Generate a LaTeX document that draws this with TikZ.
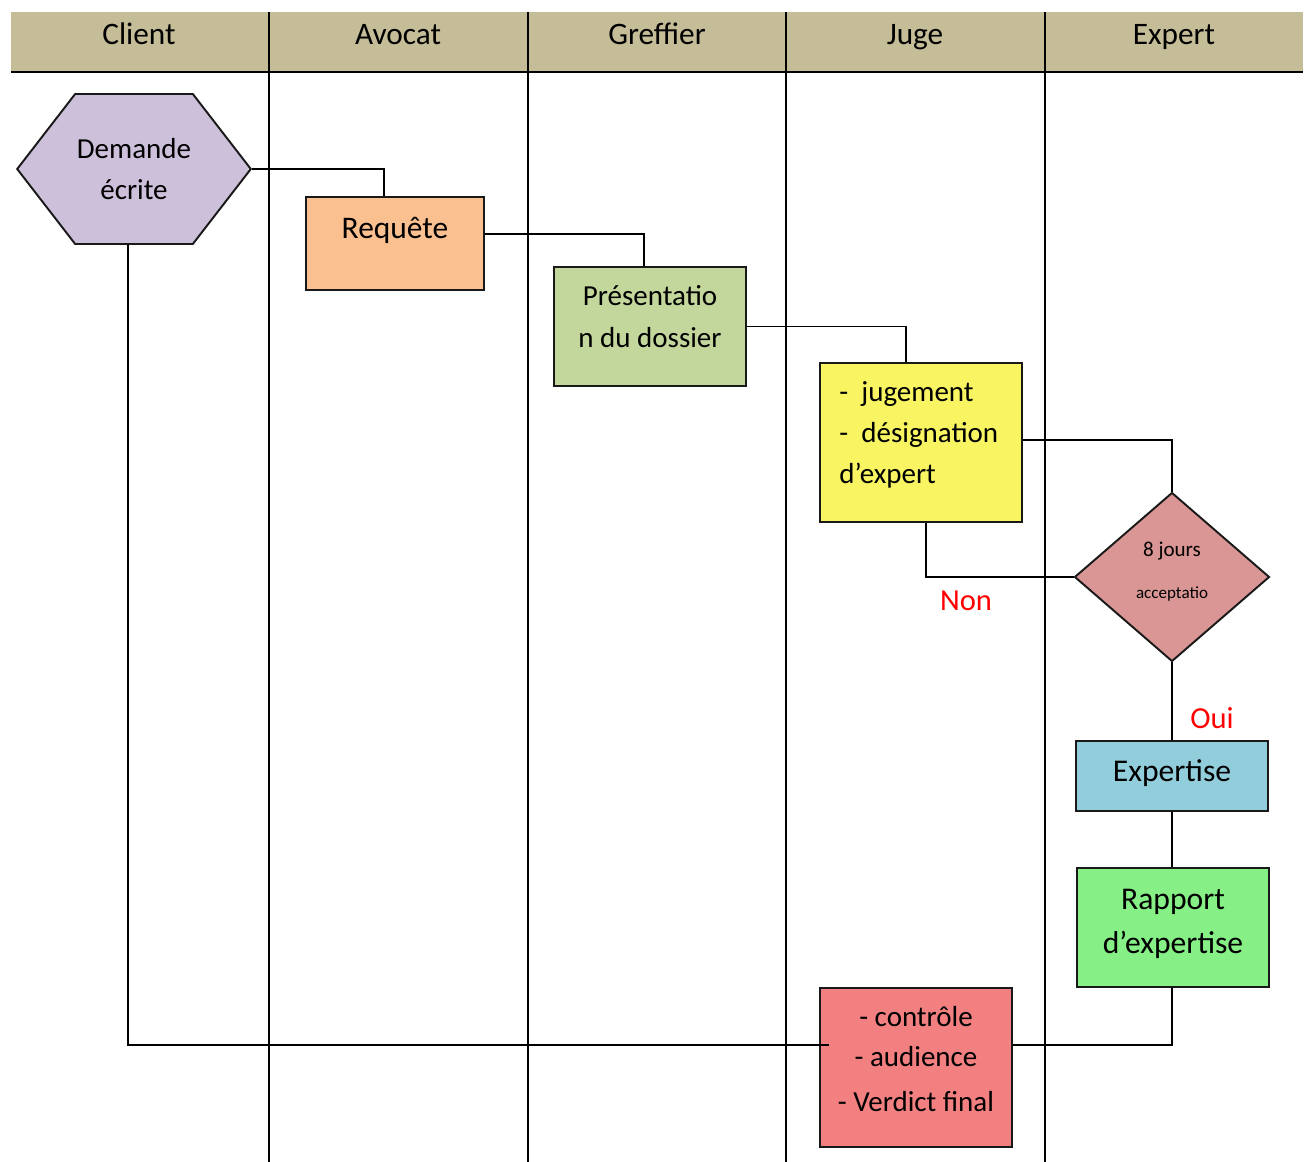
\documentclass[tikz,border=0pt]{standalone}
\usepackage{fontspec}
\setmainfont{Carlito}
\usetikzlibrary{positioning, calc, shapes.geometric, shapes.symbols}

\definecolor{headtan}{HTML}{C4BD97}
\definecolor{hexlilac}{HTML}{CCC0DA}
\definecolor{reqorange}{HTML}{FAC090}
\definecolor{presgreen}{HTML}{C3D69B}
\definecolor{jugyellow}{HTML}{F8F462}
\definecolor{accrose}{HTML}{D99694}
\definecolor{expblue}{HTML}{92CDDC}
\definecolor{rapgreen}{HTML}{86EF86}
\definecolor{verdred}{HTML}{F28080}

\begin{document}
\begin{tikzpicture}[x=0.02cm, y=-0.02cm,
        box/.style={draw=black!90, line width=1.1pt, inner sep=0pt},
        link/.style={line width=0.8pt},
        lane/.style={line width=1.1pt},
        head/.style={anchor=base, font=\fontsize{17.8}{20}\selectfont},
        intext/.style={anchor=north, inner sep=0pt, align=center,
            font=\fontsize{16.5}{23.2}\selectfont,
            execute at begin node={\rule{0pt}{15pt}}},
        cond/.style={text=red, inner sep=0pt, font=\fontsize{17.4}{20}\selectfont}]
        \useasboundingbox (0,0) rectangle (1306,1162);

        % Swimlanes
        \fill[headtan] (11,12) rectangle (1303,72);
        \foreach \x in {269,528,786,1045} {
            \draw[lane] (\x,12) -- (\x,1162);
        }
        \draw[line width=1.7pt] (11,72) -- (1303,72);
        \foreach \x/\name in {139/Client, 398/Avocat, 657/Greffier, 915/Juge, 1174/Expert} {
            \node[head] (h\name) at (\x,45) {\name};
        }

        % Steps
        \node[box, shape=signal, signal to=east and west, signal pointer angle=104.6,
            inner xsep=1pt, fill=hexlilac, minimum width=4.64cm, minimum height=3cm,
            align=center, font=\fontsize{16.5}{23.8}\selectfont] (dem) at (134,169) {Demande\\écrite};
        \node[box, fill=reqorange, minimum width=3.56cm, minimum height=1.86cm,
            label={[intext, yshift=-0.31cm, font=\fontsize{17.9}{23}\selectfont]north:{Requête}}] (req) at (395,243.5) {};
        \node[box, fill=presgreen, minimum width=3.84cm, minimum height=2.38cm,
            label={[intext, yshift=-0.38cm, font=\fontsize{16.5}{23.8}\selectfont]north:{Présentatio\\n du dossier}}] (pres) at (650,326.5) {};
        \node[box, fill=jugyellow, minimum width=4.04cm, minimum height=3.18cm,
            label={[intext, anchor=north west, align=left, xshift=0.4cm, yshift=-0.39cm, font=\fontsize{16.5}{23.2}\selectfont]north west:{-~~jugement\\-~~désignation\\d’expert}}] (jug) at (921,442.5) {};
        \node[box, diamond, fill=accrose, minimum width=3.9cm, minimum height=3.38cm,
            label={[intext, yshift=-1.01cm, font=\fontsize{12}{23.8}\selectfont]north:{8 jours\\{\fontsize{9.7}{11}\selectfont acceptatio}}}] (acc) at (1172,577) {};
        \node[box, fill=expblue, minimum width=3.84cm, minimum height=1.4cm,
            label={[intext, yshift=-0.29cm, font=\fontsize{18}{23}\selectfont]north:{Expertise}}] (exp) at (1172,776) {};
        \node[box, fill=rapgreen, minimum width=3.84cm, minimum height=2.38cm,
            label={[intext, yshift=-0.43cm, font=\fontsize{18}{25.5}\selectfont]north:{Rapport\\d’expertise}}] (rap) at (1173,927.5) {};
        \node[box, fill=verdred, minimum width=3.84cm, minimum height=3.18cm,
            label={[intext, yshift=-0.37cm]north:{- contrôle\\- audience\\[2.3pt]- Verdict final}}] (ver) at (916,1067.5) {};

        % Flow
        \draw[link] (dem.east) -| ([xshift=-0.22cm]req.north);
        \draw[link] ([yshift=0.19cm]req.east) -| ([xshift=-0.12cm]pres.north);
        \draw[link] (pres.east) -| ([xshift=-0.3cm]jug.north);
        \draw[link] ([yshift=0.05cm]jug.east) -| (acc.north);
        \draw[link] ([xshift=0.1cm]jug.south) |- (acc.west);
        \draw[link] (acc.south) -- (exp.north);
        \draw[link] (exp.south) -- (exp.south |- rap.north);
        \draw[link] (rap.south -| exp.south) |- ([yshift=0.45cm]ver.east);
        \draw[link] ([xshift=-0.12cm]dem.south) |- ([xshift=0.2cm, yshift=0.45cm]ver.west);

        % Answers
        \node[cond] (non) at (966,601) {Non};
        \node[cond] (oui) at (1212,718) {Oui};
\end{tikzpicture}
\end{document}
